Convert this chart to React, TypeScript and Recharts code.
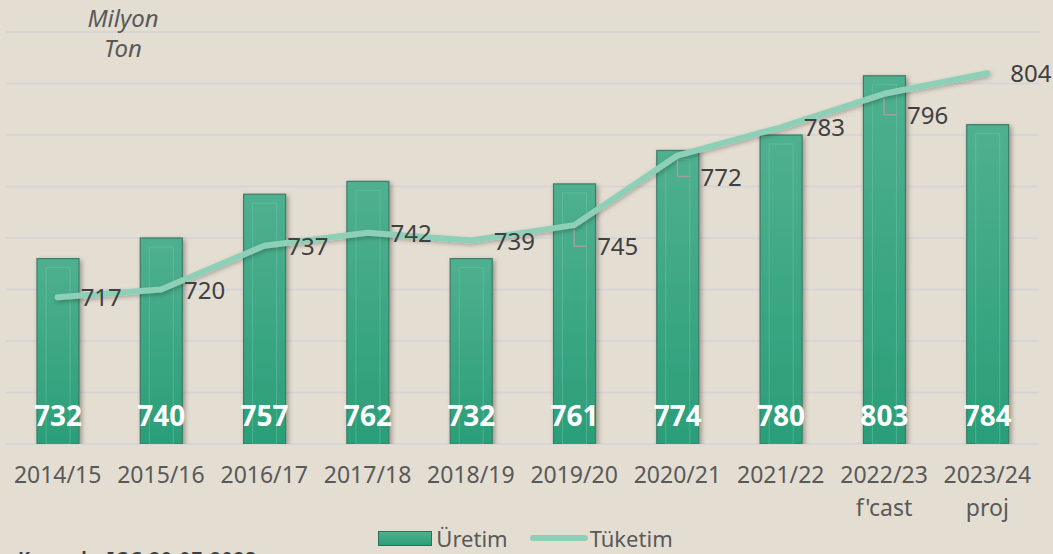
import React from 'react';
import { ComposedChart, Bar, Line, XAxis, YAxis, CartesianGrid, LabelList } from 'recharts';

const categories = ['2014/15', '2015/16', '2016/17', '2017/18', '2018/19', '2019/20', '2020/21', '2021/22', '2022/23', '2023/24'];
const subLabels = ['', '', '', '', '', '', '', '', "f'cast", 'proj'];
const production = [732, 740, 757, 762, 732, 761, 774, 780, 803, 784];
const consumption = [717, 720, 737, 742, 739, 745, 772, 783, 796, 804];
const leaderIndices = [5, 6, 8];
const yTicks = [660, 680, 700, 720, 740, 760, 780, 800, 820];

const data = categories.map((c, i) => ({
  cat: c,
  sub: subLabels[i],
  uretim: production[i],
  tuketim: consumption[i],
}));

const FONT = '"Noto Sans", "DejaVu Sans", sans-serif';
const BG = '#e4ddd2';

const BarShape = (props: any) => {
  const { x, y, width, height } = props;
  if (height == null || height <= 0) return null;
  return (
    <g filter="url(#barShadow)">
      <rect x={x} y={y} width={width} height={height} fill="url(#barGrad)" stroke="#3d7c67" strokeWidth={1.2} />
      <rect
        x={x + 9}
        y={y + 9}
        width={width - 18}
        height={Math.max(0, height - 9)}
        fill="none"
        stroke="rgba(120,200,170,0.45)"
        strokeWidth={1}
      />
    </g>
  );
};

const BarValueLabel = (props: any) => {
  const { x, y, width, height, value } = props;
  return (
    <text
      x={x + width / 2}
      y={y + height - 18}
      textAnchor="middle"
      fill="#ffffff"
      fontFamily={FONT}
      fontWeight={700}
      fontSize={28}
    >
      {value}
    </text>
  );
};

const LineValueLabel = (props: any) => {
  const { x, y, value, index } = props;
  const leader = leaderIndices.includes(index);
  if (leader) {
    return (
      <g>
        <path d={`M${x},${y + 5} V${y + 21} H${x + 13}`} fill="none" stroke="#a0a0a0" strokeWidth={1.5} />
        <text x={x + 23} y={y + 30} fill="#404040" fontFamily={FONT} fontSize={24}>
          {value}
        </text>
      </g>
    );
  }
  return (
    <text x={x + 23} y={y + 9} fill="#404040" fontFamily={FONT} fontSize={24}>
      {value}
    </text>
  );
};

const XTick = (props: any) => {
  const { x, y, payload, index } = props;
  const sub = subLabels[index] ?? '';
  return (
    <g>
      <text x={x} y={y + 39} textAnchor="middle" fill="#595959" fontFamily={FONT} fontSize={23}>
        {payload.value}
      </text>
      {sub ? (
        <text x={x} y={y + 72} textAnchor="middle" fill="#595959" fontFamily={FONT} fontSize={23}>
          {sub}
        </text>
      ) : null}
    </g>
  );
};

export default function App() {
  return (
    <div style={{ position: 'fixed', left: 0, top: 0, width: 1053, height: 554, background: BG, overflow: 'hidden' }}>
      <ComposedChart width={1053} height={554} data={data} margin={{ top: 32, right: 14, left: 6, bottom: 0 }}>
        <defs>
          <linearGradient id="barGrad" x1="0" y1="0" x2="0" y2="1">
            <stop offset="0%" stopColor="#4fb08f" />
            <stop offset="100%" stopColor="#2a9e78" />
          </linearGradient>
          <filter id="barShadow" x="-30%" y="-10%" width="160%" height="120%">
            <feDropShadow dx={2} dy={2} stdDeviation={2.5} floodColor="#000000" floodOpacity={0.35} />
          </filter>
          <filter id="lineShadow" x="-5%" y="-20%" width="110%" height="140%">
            <feDropShadow dx={1} dy={2} stdDeviation={2} floodColor="#000000" floodOpacity={0.25} />
          </filter>
        </defs>
        <CartesianGrid vertical={false} stroke="#d3d3d8" strokeWidth={1.5} />
        <XAxis
          dataKey="cat"
          axisLine={false}
          tickLine={false}
          tickSize={0}
          tickMargin={0}
          height={110}
          interval={0}
          tick={<XTick />}
        />
        <YAxis hide domain={[660, 820]} ticks={yTicks} allowDataOverflow />
        <Bar dataKey="uretim" barSize={42} shape={<BarShape />} isAnimationActive={false}>
          <LabelList dataKey="uretim" content={<BarValueLabel />} />
        </Bar>
        <Line
          dataKey="tuketim"
          type="linear"
          stroke="#8dd0b7"
          strokeWidth={6}
          strokeLinecap="round"
          strokeLinejoin="round"
          dot={false}
          activeDot={false}
          isAnimationActive={false}
          filter="url(#lineShadow)"
        >
          <LabelList dataKey="tuketim" content={<LineValueLabel />} />
        </Line>
        <text x={123} y={27} textAnchor="middle" fill="#595959" fontFamily={FONT} fontStyle="italic" fontSize={24}>
          Milyon
        </text>
        <text x={123} y={57} textAnchor="middle" fill="#595959" fontFamily={FONT} fontStyle="italic" fontSize={24}>
          Ton
        </text>
        <text
          x={18}
          y={565}
          fill="#404040"
          fontFamily={FONT}
          fontWeight={700}
          fontSize={18}
          textLength={238}
          lengthAdjust="spacing"
        >
          Kaynak: IGC 20.07.2023
        </text>
      </ComposedChart>
      <div
        style={{
          position: 'absolute',
          top: 526,
          left: 0,
          width: 1041,
          display: 'flex',
          justifyContent: 'center',
          alignItems: 'center',
          fontFamily: FONT,
          fontSize: 22,
          color: '#595959',
          lineHeight: '24px',
        }}
      >
        <div style={{ display: 'flex', alignItems: 'center', marginLeft: 10 }}>
          <span
            style={{
              display: 'inline-block',
              width: 52,
              height: 13,
              background: 'linear-gradient(#4fb08f, #2a9e78)',
              border: '1px solid #2f6f5a',
              marginRight: 4,
            }}
          />
          <span>Üretim</span>
        </div>
        <div style={{ display: 'flex', alignItems: 'center', marginLeft: 22 }}>
          <span
            style={{
              display: 'inline-block',
              width: 58,
              height: 6,
              borderRadius: 3,
              background: '#8dd0b7',
              marginRight: 2,
            }}
          />
          <span>Tüketim</span>
        </div>
      </div>
    </div>
  );
}
